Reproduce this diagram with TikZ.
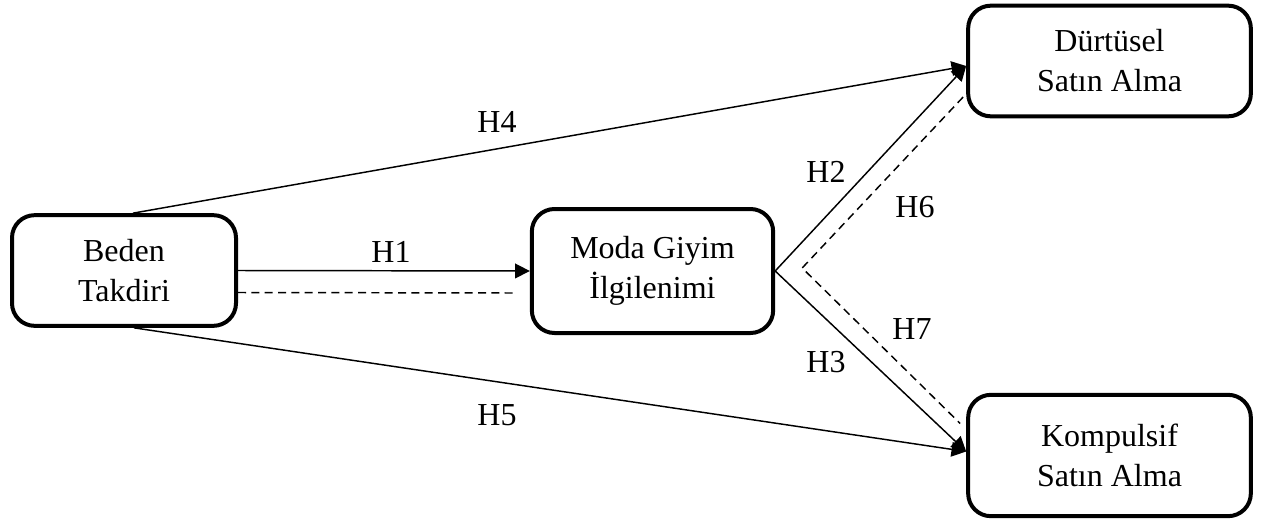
\documentclass[tikz,border=0pt]{standalone}
\usepackage{fontspec}
\setmainfont{Liberation Serif}
\usetikzlibrary{arrows.meta,calc}
\begin{document}
\begin{tikzpicture}[x=0.75pt,y=-0.75pt,
  box/.style={draw,line width=3pt,rounded corners=17pt,align=center,inner sep=0pt,
    font=\fontsize{24}{30}\selectfont},
  lbl/.style={font=\fontsize{24}{30}\selectfont,inner sep=0pt},
  conn/.style={line width=1.1pt},
  arr/.style={conn,-{Triangle[length=11pt,width=11pt]}},
  dsh/.style={conn,dash pattern=on 6pt off 4pt}]
\useasboundingbox (0,0) rectangle (1270,521);
\node[box,minimum width=168pt,minimum height=83pt] (bed) at (124,270.5) {Beden\\Takdiri};
\node[box,minimum width=181pt,minimum height=93pt] (moda) at (652.5,271) {Moda Giyim\\İlgilenimi};
\node[box,minimum width=212pt,minimum height=83pt] (durt) at (1109.5,61) {Dürtüsel\\Satın Alma};
\node[box,minimum width=212pt,minimum height=91pt] (komp) at (1109.5,455.5) {Kompulsif\\Satın Alma};
\coordinate (mid) at ($(moda.east)+(27,-3)$);
\draw[arr] ($(bed.north)+(9,0)$) -- ($(durt.west)+(0,5)$);
\draw[arr] ($(bed.south)+(10,0)$) -- ($(komp.west)+(0,-4)$);
\draw[arr] (bed.east) -- (moda.west);
\draw[dsh] ($(bed.east)+(0,22)$) -- ($(moda.west)+(-13,22)$);
\draw[arr] (moda.east) -- ($(durt.west)+(0,5)$);
\draw[arr] (moda.east) -- ($(komp.west)+(0,-4)$);
\draw[dsh] ($(durt.west)+(-3,36)$) -- (mid) -- ($(komp.west)+(-6,-32)$);
\node[lbl] (h4) at (497,122) {H4};
\node[lbl] (h1) at (391,252) {H1};
\node[lbl] (h5) at (497,415) {H5};
\node[lbl] (h2) at (826,172) {H2};
\node[lbl] (h6) at (915,207) {H6};
\node[lbl] (h7) at (912,329) {H7};
\node[lbl] (h3) at (826,362) {H3};
\end{tikzpicture}
\end{document}
